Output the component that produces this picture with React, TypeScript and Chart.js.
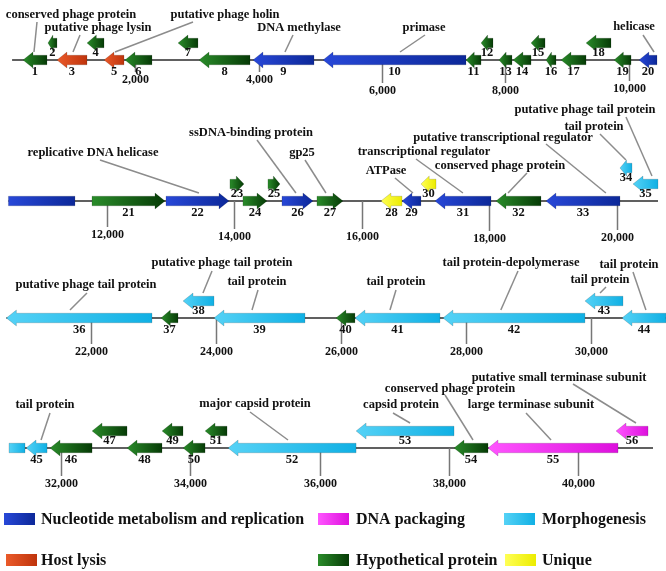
import React, { useEffect, useRef } from "react";
import Chart from "chart.js/auto";

// ---------- DATA ----------
const categoryNames = [
  "Nucleotide metabolism and replication",
  "DNA packaging",
  "Morphogenesis",
  "Host lysis",
  "Hypothetical protein",
  "Unique",
];

// gene numbers 1..56
const geneIds = Array.from({ length: 56 }, (_, i) => i + 1);
const geneStart = [
  177, 582, 728, 1215, 1491, 1831, 2691, 3032, 3907, 5043,
  7362, 7606, 7897, 8125, 8417, 8660, 8903, 9309, 9763, 10168,
  11771, 12932, 13935, 14139, 14531, 14751, 15300, 16304, 16633, 16931,
  17151, 18108, 18892, 20053, 20257, 20650, 23122, 23474, 23969, 25919,
  26223, 27630, 29900, 30492, 31459, 31830, 32480, 33021, 33562, 33887,
  34228, 34584, 36564, 38079, 38605, 40585,
];
const geneEnd = [
  566, 728, 1215, 1491, 1815, 2269, 3015, 3859, 4897, 7362,
  7606, 7800, 8108, 8417, 8644, 8822, 9309, 9714, 10039, 11504,
  12916, 13920, 14155, 14516, 14720, 15237, 15708, 16633, 16931, 17167,
  18030, 18814, 20053, 20241, 20649, 22978, 23394, 23969, 25424, 26223,
  27582, 29900, 30508, 31443, 31784, 32480, 33021, 33562, 33887, 34228,
  34568, 36564, 38079, 38605, 40616, 41080,
];
// "+" forward, "-" reverse
const geneStrand = [
  "-", "-", "-", "-", "-", "-", "-", "-", "-", "-",
  "-", "-", "-", "-", "-", "-", "-", "-", "-", "-",
  "+", "+", "+", "+", "+", "+", "+", "-", "-", "-",
  "-", "-", "-", "-", "-", "-", "-", "-", "-", "-",
  "-", "-", "-", "-", "-", "-", "-", "-", "-", "-",
  "-", "-", "-", "-", "-", "-",
];
// index into categoryNames
const geneCategory = [
  4, 4, 3, 4, 3, 4, 4, 4, 0, 0,
  4, 4, 4, 4, 4, 4, 4, 4, 4, 0,
  4, 0, 4, 4, 4, 0, 4, 5, 0, 5,
  0, 4, 0, 2, 2, 2, 4, 2, 2, 4,
  2, 2, 2, 2, 2, 4, 4, 4, 4, 4,
  4, 2, 2, 4, 1, 1,
];
// track: 0 on the genome line, 1 raised, 2 raised higher
const geneTrack = [
  0, 1, 0, 1, 0, 0, 1, 0, 0, 0,
  0, 1, 0, 0, 1, 0, 0, 1, 0, 0,
  0, 0, 1, 0, 1, 0, 0, 0, 0, 1,
  0, 0, 0, 2, 1, 0, 0, 1, 0, 0,
  0, 0, 1, 0, 0, 0, 1, 0, 1, 0,
  1, 0, 1, 0, 0, 1,
];

const rowStarts = [0, 10460, 20650, 31195];
const genomeEnd = 41157;
const tickValues = [
  2000, 4000, 6000, 8000, 10000,
  12000, 14000, 16000, 18000, 20000,
  22000, 24000, 26000, 28000, 30000,
  32000, 34000, 36000, 38000, 40000,
];

const annGene = [1, 3, 5, 9, 10, 20, 22, 26, 27, 29, 31, 32, 33, 34, 35, 36, 38, 39, 41, 42, 43, 44, 45, 52, 53, 54, 55, 56];
const annText = [
  "conserved phage protein", "putative phage lysin", "putative phage holin", "DNA methylase",
  "primase", "helicase", "replicative DNA helicase", "ssDNA-binding protein", "gp25", "ATPase",
  "transcriptional regulator", "conserved phage protein", "putative transcriptional regulator",
  "tail protein", "putative phage tail protein", "putative phage tail protein",
  "putative phage tail protein", "tail protein", "tail protein", "tail protein-depolymerase",
  "tail protein", "tail protein", "tail protein", "major capsid protein", "capsid protein",
  "conserved phage protein", "large terminase subunit", "putative small terminase subunit",
];
const annTargetBp = [
  355, 988, 1669, 4426, 6292, 10412, 13449, 14970, 15441, 16806, 17590, 18297, 19832, 20147,
  20555, 21667, 23793, 24577, 26783, 28555, 30141, 30875, 31691, 35511, 37399, 38373, 39580, 40894,
];

// ---------- LAYOUT / STYLE ----------
const W = 666;
const H = 571;
const rowScaleMin = [-196, 10328, 20548, 31056];
const rowScaleMax = [10606, 20775, 31196, 41358];
const rowLineY = [60, 201, 318, 448];
const trackOffset = [0, -17, -33];
const tickLabelDrop = [
  20, 20, 31, 31, 29,
  34, 36, 36, 38, 37,
  34, 34, 34, 34, 34,
  36, 36, 36, 36, 36,
];
const annLabelPos = [
  [71, 15], [98, 28], [225, 15], [299, 28], [424, 28], [634, 27],
  [93, 153], [251, 133], [302, 153], [386, 171], [424, 152], [500, 166], [503, 138], [594, 127], [585, 110],
  [86, 285], [222, 263], [257, 282], [396, 282], [511, 263], [600, 280], [629, 265],
  [45, 405], [255, 404], [401, 405], [450, 389], [531, 405], [559, 378],
];
const annLeaderStart = [
  [37, 22], [80, 35], [193, 22], [293, 35], [425, 35], [643, 35],
  [100, 160], [257, 140], [305, 160], [395, 178], [416, 159], [527, 173], [546, 144], [600, 134], [626, 117],
  [87, 293], [212, 271], [258, 290], [396, 290], [518, 271], [606, 287], [633, 272],
  [50, 413], [250, 412], [393, 413], [445, 395], [526, 413], [573, 384],
];
const categoryColors = [
  ["#2848d8", "#0c2899"],
  ["#ff55ff", "#dd10dd"],
  ["#55d2f6", "#10b0e4"],
  ["#ea5a2a", "#bf340c"],
  ["#2a8c2a", "#063b06"],
  ["#ffff55", "#ecec00"],
];
const legendOrder = [0, 1, 2, 3, 4, 5];
const legendPos = [
  [4, 519, 41], [318, 519, 356], [504, 519, 542],
  [6, 560, 41], [318, 560, 356], [505, 560, 542],
];

const FONT = '"Liberation Serif", "Times New Roman", serif';

function rowOf(bp: number) {
  let r = 0;
  for (let i = 0; i < rowStarts.length; i++) if (bp >= rowStarts[i]) r = i;
  return r;
}
function rowEnd(r: number) {
  return r + 1 < rowStarts.length ? rowStarts[r + 1] : genomeEnd;
}

function arrowPath(ctx: CanvasRenderingContext2D, x1: number, x2: number, cy: number, strand: string, head: boolean) {
  const bh = 4.8;
  const hh = 8;
  const w = x2 - x1;
  const hl = Math.min(10, w * 0.55);
  ctx.beginPath();
  if (!head) {
    ctx.rect(x1, cy - bh, w, bh * 2);
    return;
  }
  if (strand === "-") {
    ctx.moveTo(x1, cy);
    ctx.lineTo(x1 + hl, cy - hh);
    ctx.lineTo(x1 + hl, cy - bh);
    ctx.lineTo(x2, cy - bh);
    ctx.lineTo(x2, cy + bh);
    ctx.lineTo(x1 + hl, cy + bh);
    ctx.lineTo(x1 + hl, cy + hh);
  } else {
    ctx.moveTo(x2, cy);
    ctx.lineTo(x2 - hl, cy - hh);
    ctx.lineTo(x2 - hl, cy - bh);
    ctx.lineTo(x1, cy - bh);
    ctx.lineTo(x1, cy + bh);
    ctx.lineTo(x2 - hl, cy + bh);
    ctx.lineTo(x2 - hl, cy + hh);
  }
  ctx.closePath();
}

const mapPlugin = {
  id: "genomeMap",
  beforeDraw(chart: any) {
    const ctx = chart.ctx as CanvasRenderingContext2D;
    ctx.save();
    ctx.fillStyle = "#ffffff";
    ctx.fillRect(0, 0, chart.width, chart.height);
    ctx.restore();
  },
  afterDraw(chart: any) {
    const ctx = chart.ctx as CanvasRenderingContext2D;
    const ys = chart.scales.y;
    const xs = (r: number) => chart.scales["x" + r];
    const px = (bp: number, r: number) => xs(r).getPixelForValue(bp);
    const py = (v: number) => ys.getPixelForValue(v);
    ctx.save();

    // genome lines
    ctx.strokeStyle = "#2b2b2b";
    ctx.lineWidth = 1.5;
    for (let r = 0; r < rowStarts.length; r++) {
      const y = py(rowLineY[r]);
      ctx.beginPath();
      ctx.moveTo(px(rowStarts[r], r), y);
      ctx.lineTo(px(rowEnd(r), r), y);
      ctx.stroke();
    }

    // ticks
    ctx.strokeStyle = "#777777";
    ctx.lineWidth = 1.5;
    ctx.fillStyle = "#111";
    ctx.font = `bold 12px ${FONT}`;
    ctx.textAlign = "center";
    ctx.textBaseline = "middle";
    tickValues.forEach((t, i) => {
      const r = rowOf(t);
      const x = Math.round(px(t, r)) + 0.5;
      const y0 = py(rowLineY[r]);
      const ly = py(rowLineY[r] + tickLabelDrop[i]);
      ctx.beginPath();
      ctx.moveTo(x, y0);
      ctx.lineTo(x, ly - 8);
      ctx.stroke();
      ctx.fillText(t.toLocaleString("en-US"), x, ly);
    });

    // leader lines
    ctx.strokeStyle = "#8c8c8c";
    ctx.lineWidth = 1.5;
    annGene.forEach((g, i) => {
      const gi = g - 1;
      const r = rowOf(annTargetBp[i]);
      const cy = rowLineY[r] + trackOffset[geneTrack[gi]];
      ctx.beginPath();
      ctx.moveTo(annLeaderStart[i][0], py(annLeaderStart[i][1]));
      ctx.lineTo(px(annTargetBp[i], r), py(cy - 8));
      ctx.stroke();
    });

    // genes
    geneIds.forEach((id, gi) => {
      const s = geneStart[gi];
      const e = geneEnd[gi];
      const r0 = rowOf(s);
      const r1 = rowOf(e - 1);
      const [c1, c2] = categoryColors[geneCategory[gi]];
      for (let r = r0; r <= r1; r++) {
        const a = Math.max(s, rowStarts[r]);
        const b = Math.min(e, rowEnd(r));
        const x1 = px(a, r);
        const x2 = px(b, r);
        const cy = py(rowLineY[r] + trackOffset[geneTrack[gi]]);
        const head = geneStrand[gi] === "-" ? r === r0 : r === r1;
        const grad = ctx.createLinearGradient(x1, 0, x2, 0);
        grad.addColorStop(0, c1);
        grad.addColorStop(1, c2);
        arrowPath(ctx, x1, x2, cy, geneStrand[gi], head);
        ctx.fillStyle = grad;
        ctx.fill();
        ctx.strokeStyle = "rgba(0,0,0,0.25)";
        ctx.lineWidth = 0.6;
        ctx.stroke();
      }
      // number label
      const r = r0;
      const a = Math.max(s, rowStarts[r]);
      const b = Math.min(e, rowEnd(r));
      const cx = (px(a, r) + px(b, r)) / 2;
      const tr = geneTrack[gi];
      const ny = tr === 0 ? rowLineY[r] + 12 : rowLineY[r] + trackOffset[tr] + 10;
      ctx.fillStyle = "#111";
      ctx.font = `bold 12.5px ${FONT}`;
      ctx.textAlign = "center";
      ctx.textBaseline = "middle";
      ctx.fillText(String(id), cx, py(ny));
    });

    // annotation labels
    ctx.fillStyle = "#111";
    ctx.font = `bold 12.5px ${FONT}`;
    ctx.textAlign = "center";
    ctx.textBaseline = "middle";
    annText.forEach((t, i) => {
      ctx.fillText(t, annLabelPos[i][0], py(annLabelPos[i][1]));
    });

    // legend
    legendOrder.forEach((c, i) => {
      const [sx, sy, tx] = legendPos[i];
      const y = py(sy);
      const grad = ctx.createLinearGradient(sx, 0, sx + 31, 0);
      grad.addColorStop(0, categoryColors[c][0]);
      grad.addColorStop(1, categoryColors[c][1]);
      ctx.fillStyle = grad;
      ctx.fillRect(sx, y - 6, 31, 12);
      ctx.fillStyle = "#111";
      ctx.font = `bold 16px ${FONT}`;
      ctx.textAlign = "left";
      ctx.textBaseline = "middle";
      ctx.fillText(categoryNames[c], tx, y + 1);
    });

    ctx.restore();
  },
};

export default function App() {
  const ref = useRef<HTMLCanvasElement>(null);
  useEffect(() => {
    document.body.style.margin = "0";
    const scales: any = {
      y: { type: "linear", min: 0, max: H, reverse: true, display: false },
    };
    for (let r = 0; r < 4; r++) {
      scales["x" + r] = {
        type: "linear",
        axis: "x",
        position: "bottom",
        min: rowScaleMin[r],
        max: rowScaleMax[r],
        display: false,
      };
    }
    const chart = new Chart(ref.current as HTMLCanvasElement, {
      type: "scatter",
      data: { datasets: [] },
      options: {
        responsive: false,
        animation: false,
        layout: { padding: 0 },
        plugins: { legend: { display: false }, tooltip: { enabled: false }, title: { display: false } },
        scales,
      },
      plugins: [mapPlugin as any],
    });
    return () => chart.destroy();
  }, []);
  return <canvas ref={ref} width={W} height={H} style={{ display: "block", width: W, height: H }} />;
}
